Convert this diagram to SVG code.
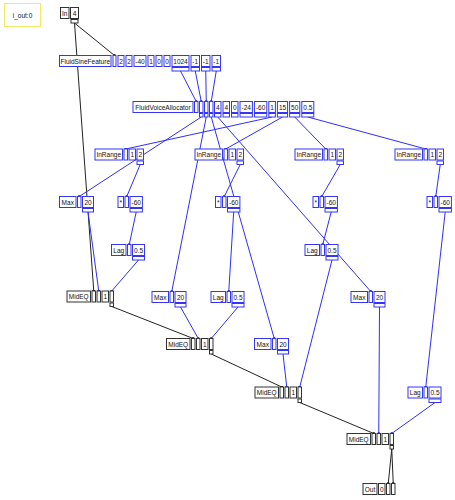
<svg xmlns="http://www.w3.org/2000/svg" width="455" height="500" viewBox="0 0 455 500">
<defs>
<style>
.b rect{fill:#fff;stroke:#3535f5;stroke-width:1}
.k rect{fill:#fff;stroke:#333;stroke-width:1}
text{font-family:"Liberation Sans",Arial,sans-serif;font-size:6.5px;fill:#111;text-anchor:middle}
.cb line{stroke:#2f2ff5;stroke-width:1;marker-end:url(#mb)}
.ck line{stroke:#222;stroke-width:1;marker-end:url(#mk)}
</style>
<marker id="mb" viewBox="0 0 4 4" refX="2" refY="2" markerWidth="3" markerHeight="3" markerUnits="userSpaceOnUse"><circle cx="2" cy="2" r="2" fill="#2f2ff5"/></marker>
<marker id="mk" viewBox="0 0 4 4" refX="2" refY="2" markerWidth="3" markerHeight="3" markerUnits="userSpaceOnUse"><circle cx="2" cy="2" r="2" fill="#222"/></marker>
</defs>
<rect width="455" height="500" fill="#fff"/>

<g id="connectors">
<g class="ck">
<line x1="74.5" y1="23" x2="114.5" y2="55.5"/>
<line x1="74.5" y1="23" x2="93.75" y2="291"/>
<line x1="111.75" y1="306.5" x2="193.25" y2="338.5"/>
<line x1="211.25" y1="354" x2="281.75" y2="387"/>
<line x1="299.75" y1="402.5" x2="373.75" y2="433.5"/>
<line x1="391.75" y1="449" x2="388.25" y2="483.5"/>
<line x1="391.75" y1="449" x2="393.25" y2="483.5"/>
</g>
<g class="cb">
<line x1="180.5" y1="71" x2="196.25" y2="101.5"/>
<line x1="195.25" y1="71" x2="201.25" y2="101.5"/>
<line x1="205.75" y1="71" x2="206.25" y2="101.5"/>
<line x1="216.25" y1="71" x2="211.25" y2="101.5"/>
<line x1="201.25" y1="117" x2="79.25" y2="196.5"/>
<line x1="206.25" y1="117" x2="171.75" y2="291.5"/>
<line x1="211.25" y1="117" x2="274.25" y2="338.5"/>
<line x1="217.75" y1="117" x2="370.75" y2="291.5"/>
<line x1="272.1" y1="117" x2="125.75" y2="149"/>
<line x1="282.5" y1="117" x2="225.75" y2="149"/>
<line x1="294.7" y1="117" x2="325.75" y2="149"/>
<line x1="307.8" y1="117" x2="425.75" y2="149"/>
<line x1="140.25" y1="164.5" x2="126.75" y2="196.5"/>
<line x1="240.25" y1="164.5" x2="224.25" y2="196.5"/>
<line x1="340.25" y1="164.5" x2="321.75" y2="196.5"/>
<line x1="440.25" y1="164.5" x2="435.75" y2="196.5"/>
<line x1="136.2" y1="212" x2="129.25" y2="244.5"/>
<line x1="233.7" y1="212" x2="228.75" y2="291.5"/>
<line x1="331.2" y1="212" x2="322.75" y2="244.5"/>
<line x1="445.2" y1="212" x2="425.75" y2="387"/>
<line x1="88" y1="212" x2="98.75" y2="291"/>
<line x1="180.5" y1="307" x2="198.25" y2="338.5"/>
<line x1="283" y1="354" x2="286.75" y2="387"/>
<line x1="379.5" y1="307" x2="378.75" y2="433.5"/>
<line x1="138.5" y1="260" x2="111.75" y2="291"/>
<line x1="238" y1="307" x2="211.25" y2="338.5"/>
<line x1="332" y1="260" x2="299.75" y2="387"/>
<line x1="435" y1="402.5" x2="391.75" y2="433.5"/>
</g>
</g>

<g id="i_out">
<rect x="4.5" y="3.5" width="36" height="23" fill="#fff" stroke="#f0e868" stroke-width="1"/>
<text x="22.5" y="17.5">i_out:0</text>
</g>

<g id="in" class="k">
<rect x="60.5" y="7.5" width="8.5" height="11"/><text x="64.75" y="15.5">In</text>
<rect x="70.5" y="7.5" width="8" height="11"/><text x="74.5" y="15.5">4</text>
<rect x="71" y="19.5" width="7" height="3.5"/>
</g>

<g id="fluidsinefeature" class="b">
<rect x="59.5" y="55.5" width="51.5" height="11"/><text x="85.25" y="63.5">FluidSineFeature</text>
<rect x="113" y="55.5" width="3" height="11"/>
<rect x="118" y="55.5" width="6" height="11"/><text x="121" y="63.5">2</text>
<rect x="126" y="55.5" width="6" height="11"/><text x="129" y="63.5">2</text>
<rect x="134" y="55.5" width="12" height="11"/><text x="140" y="63.5">-40</text>
<rect x="148" y="55.5" width="6" height="11"/><text x="151" y="63.5">1</text>
<rect x="156" y="55.5" width="6" height="11"/><text x="159" y="63.5">0</text>
<rect x="164" y="55.5" width="6" height="11"/><text x="167" y="63.5">0</text>
<rect x="172" y="55.5" width="17" height="11"/><text x="180.5" y="63.5">1024</text>
<rect x="191" y="55.5" width="8.5" height="11"/><text x="195.25" y="63.5">-1</text>
<rect x="201.5" y="55.5" width="8.5" height="11"/><text x="205.75" y="63.5">-1</text>
<rect x="212" y="55.5" width="8.5" height="11"/><text x="216.25" y="63.5">-1</text>
<rect x="172" y="67.5" width="17" height="3.5"/>
<rect x="191" y="67.5" width="8.5" height="3.5"/>
<rect x="201.5" y="67.5" width="8.5" height="3.5"/>
<rect x="212" y="67.5" width="8.5" height="3.5"/>
</g>

<g id="fluidvoiceallocator" class="b">
<rect x="133" y="101.5" width="60" height="11"/><text x="163" y="109.5">FluidVoiceAllocator</text>
<rect x="194.5" y="101.5" width="3.5" height="11"/>
<rect x="199.5" y="101.5" width="3.5" height="11"/>
<rect x="204.5" y="101.5" width="3.5" height="11"/>
<rect x="209.5" y="101.5" width="3.5" height="11"/>
<rect x="214.5" y="101.5" width="6.5" height="11"/><text x="217.75" y="109.5">4</text>
<rect x="223" y="101.5" width="6.5" height="11"/><text x="226.25" y="109.5">4</text>
<rect x="231.5" y="101.5" width="6.5" height="11"/><text x="234.75" y="109.5">0</text>
<rect x="240" y="101.5" width="12.4" height="11"/><text x="246.2" y="109.5">-24</text>
<rect x="254.4" y="101.5" width="12.4" height="11"/><text x="260.6" y="109.5">-60</text>
<rect x="268.8" y="101.5" width="6.6" height="11"/><text x="272.1" y="109.5">1</text>
<rect x="277.4" y="101.5" width="10.2" height="11"/><text x="282.5" y="109.5">15</text>
<rect x="289.6" y="101.5" width="10.2" height="11"/><text x="294.7" y="109.5">50</text>
<rect x="301.8" y="101.5" width="12" height="11"/><text x="307.8" y="109.5">0.5</text>
<rect x="199.5" y="113.5" width="3.5" height="3.5"/>
<rect x="204.5" y="113.5" width="3.5" height="3.5"/>
<rect x="209.5" y="113.5" width="3.5" height="3.5"/>
<rect x="214.5" y="113.5" width="6.5" height="3.5"/>
<rect x="223" y="113.5" width="6.5" height="3.5"/>
<rect x="231.5" y="113.5" width="6.5" height="3.5"/>
<rect x="240" y="113.5" width="12.4" height="3.5"/>
<rect x="254.4" y="113.5" width="12.4" height="3.5"/>
<rect x="268.8" y="113.5" width="6.6" height="3.5"/>
<rect x="277.4" y="113.5" width="10.2" height="3.5"/>
<rect x="289.6" y="113.5" width="10.2" height="3.5"/>
<rect x="301.8" y="113.5" width="12" height="3.5"/>
</g>

<g id="inrange1" class="b" transform="translate(95,149)">
<rect x="0" y="0" width="27.5" height="11"/><text x="13.75" y="8">InRange</text>
<rect x="29" y="0" width="3.5" height="11"/>
<rect x="34" y="0" width="6.5" height="11"/><text x="37.25" y="8">1</text>
<rect x="42" y="0" width="6.5" height="11"/><text x="45.25" y="8">2</text>
<rect x="42" y="12" width="6.5" height="3.5"/>
</g>
<g id="inrange2" class="b" transform="translate(195,149)">
<rect x="0" y="0" width="27.5" height="11"/><text x="13.75" y="8">InRange</text>
<rect x="29" y="0" width="3.5" height="11"/>
<rect x="34" y="0" width="6.5" height="11"/><text x="37.25" y="8">1</text>
<rect x="42" y="0" width="6.5" height="11"/><text x="45.25" y="8">2</text>
<rect x="42" y="12" width="6.5" height="3.5"/>
</g>
<g id="inrange3" class="b" transform="translate(295,149)">
<rect x="0" y="0" width="27.5" height="11"/><text x="13.75" y="8">InRange</text>
<rect x="29" y="0" width="3.5" height="11"/>
<rect x="34" y="0" width="6.5" height="11"/><text x="37.25" y="8">1</text>
<rect x="42" y="0" width="6.5" height="11"/><text x="45.25" y="8">2</text>
<rect x="42" y="12" width="6.5" height="3.5"/>
</g>
<g id="inrange4" class="b" transform="translate(395,149)">
<rect x="0" y="0" width="27.5" height="11"/><text x="13.75" y="8">InRange</text>
<rect x="29" y="0" width="3.5" height="11"/>
<rect x="34" y="0" width="6.5" height="11"/><text x="37.25" y="8">1</text>
<rect x="42" y="0" width="6.5" height="11"/><text x="45.25" y="8">2</text>
<rect x="42" y="12" width="6.5" height="3.5"/>
</g>

<g id="mul1" class="b" transform="translate(118,196.5)">
<rect x="0" y="0" width="5.5" height="11"/><text x="2.75" y="8">*</text>
<rect x="7" y="0" width="3.5" height="11"/>
<rect x="12" y="0" width="12.4" height="11"/><text x="18.2" y="8">-60</text>
<rect x="12" y="12" width="12.4" height="3.5"/>
</g>
<g id="mul2" class="b" transform="translate(215.5,196.5)">
<rect x="0" y="0" width="5.5" height="11"/><text x="2.75" y="8">*</text>
<rect x="7" y="0" width="3.5" height="11"/>
<rect x="12" y="0" width="12.4" height="11"/><text x="18.2" y="8">-60</text>
<rect x="12" y="12" width="12.4" height="3.5"/>
</g>
<g id="mul3" class="b" transform="translate(313,196.5)">
<rect x="0" y="0" width="5.5" height="11"/><text x="2.75" y="8">*</text>
<rect x="7" y="0" width="3.5" height="11"/>
<rect x="12" y="0" width="12.4" height="11"/><text x="18.2" y="8">-60</text>
<rect x="12" y="12" width="12.4" height="3.5"/>
</g>
<g id="mul4" class="b" transform="translate(427,196.5)">
<rect x="0" y="0" width="5.5" height="11"/><text x="2.75" y="8">*</text>
<rect x="7" y="0" width="3.5" height="11"/>
<rect x="12" y="0" width="12.4" height="11"/><text x="18.2" y="8">-60</text>
<rect x="12" y="12" width="12.4" height="3.5"/>
</g>

<g id="max1" class="b" transform="translate(59.5,196.5)">
<rect x="0" y="0" width="16.5" height="11"/><text x="8.25" y="8">Max</text>
<rect x="18" y="0" width="3.5" height="11"/>
<rect x="23" y="0" width="11" height="11"/><text x="28.5" y="8">20</text>
<rect x="23" y="12" width="11" height="3.5"/>
</g>
<g id="max2" class="b" transform="translate(152,291.5)">
<rect x="0" y="0" width="16.5" height="11"/><text x="8.25" y="8">Max</text>
<rect x="18" y="0" width="3.5" height="11"/>
<rect x="23" y="0" width="11" height="11"/><text x="28.5" y="8">20</text>
<rect x="23" y="12" width="11" height="3.5"/>
</g>
<g id="max3" class="b" transform="translate(254.5,338.5)">
<rect x="0" y="0" width="16.5" height="11"/><text x="8.25" y="8">Max</text>
<rect x="18" y="0" width="3.5" height="11"/>
<rect x="23" y="0" width="11" height="11"/><text x="28.5" y="8">20</text>
<rect x="23" y="12" width="11" height="3.5"/>
</g>
<g id="max4" class="b" transform="translate(351,291.5)">
<rect x="0" y="0" width="16.5" height="11"/><text x="8.25" y="8">Max</text>
<rect x="18" y="0" width="3.5" height="11"/>
<rect x="23" y="0" width="11" height="11"/><text x="28.5" y="8">20</text>
<rect x="23" y="12" width="11" height="3.5"/>
</g>

<g id="lag1" class="b" transform="translate(111.5,244.5)">
<rect x="0" y="0" width="14.5" height="11"/><text x="7.25" y="8">Lag</text>
<rect x="16" y="0" width="3.5" height="11"/>
<rect x="21" y="0" width="12" height="11"/><text x="27" y="8">0.5</text>
<rect x="21" y="12" width="12" height="3.5"/>
</g>
<g id="lag2" class="b" transform="translate(211,291.5)">
<rect x="0" y="0" width="14.5" height="11"/><text x="7.25" y="8">Lag</text>
<rect x="16" y="0" width="3.5" height="11"/>
<rect x="21" y="0" width="12" height="11"/><text x="27" y="8">0.5</text>
<rect x="21" y="12" width="12" height="3.5"/>
</g>
<g id="lag3" class="b" transform="translate(305,244.5)">
<rect x="0" y="0" width="14.5" height="11"/><text x="7.25" y="8">Lag</text>
<rect x="16" y="0" width="3.5" height="11"/>
<rect x="21" y="0" width="12" height="11"/><text x="27" y="8">0.5</text>
<rect x="21" y="12" width="12" height="3.5"/>
</g>
<g id="lag4" class="b" transform="translate(408,387)">
<rect x="0" y="0" width="14.5" height="11"/><text x="7.25" y="8">Lag</text>
<rect x="16" y="0" width="3.5" height="11"/>
<rect x="21" y="0" width="12" height="11"/><text x="27" y="8">0.5</text>
<rect x="21" y="12" width="12" height="3.5"/>
</g>

<g id="mideq1" class="k" transform="translate(67,291)">
<rect x="0" y="0" width="23.5" height="11"/><text x="11.75" y="8">MidEQ</text>
<rect x="25" y="0" width="3.5" height="11"/>
<rect x="30" y="0" width="3.5" height="11"/>
<rect x="35" y="0" width="6.5" height="11"/><text x="38.25" y="8">1</text>
<rect x="43" y="0" width="3.5" height="11"/>
<rect x="43" y="12" width="3.5" height="3.5"/>
</g>
<g id="mideq2" class="k" transform="translate(166.5,338.5)">
<rect x="0" y="0" width="23.5" height="11"/><text x="11.75" y="8">MidEQ</text>
<rect x="25" y="0" width="3.5" height="11"/>
<rect x="30" y="0" width="3.5" height="11"/>
<rect x="35" y="0" width="6.5" height="11"/><text x="38.25" y="8">1</text>
<rect x="43" y="0" width="3.5" height="11"/>
<rect x="43" y="12" width="3.5" height="3.5"/>
</g>
<g id="mideq3" class="k" transform="translate(255,387)">
<rect x="0" y="0" width="23.5" height="11"/><text x="11.75" y="8">MidEQ</text>
<rect x="25" y="0" width="3.5" height="11"/>
<rect x="30" y="0" width="3.5" height="11"/>
<rect x="35" y="0" width="6.5" height="11"/><text x="38.25" y="8">1</text>
<rect x="43" y="0" width="3.5" height="11"/>
<rect x="43" y="12" width="3.5" height="3.5"/>
</g>
<g id="mideq4" class="k" transform="translate(347,433.5)">
<rect x="0" y="0" width="23.5" height="11"/><text x="11.75" y="8">MidEQ</text>
<rect x="25" y="0" width="3.5" height="11"/>
<rect x="30" y="0" width="3.5" height="11"/>
<rect x="35" y="0" width="6.5" height="11"/><text x="38.25" y="8">1</text>
<rect x="43" y="0" width="3.5" height="11"/>
<rect x="43" y="12" width="3.5" height="3.5"/>
</g>

<g id="out" class="k" transform="translate(363,483.5)">
<rect x="0" y="0" width="14" height="11"/><text x="7" y="8">Out</text>
<rect x="15.5" y="0" width="6.5" height="11"/><text x="18.75" y="8">0</text>
<rect x="23.5" y="0" width="3.5" height="11"/>
<rect x="28.5" y="0" width="3.5" height="11"/>
</g>
</svg>
